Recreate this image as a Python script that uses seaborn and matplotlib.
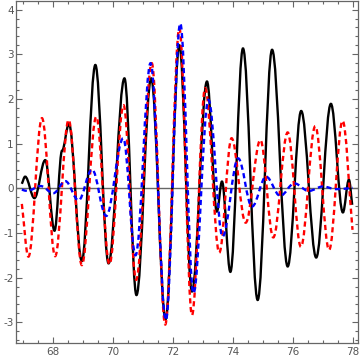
import matplotlib
matplotlib.use("Agg")
import matplotlib.pyplot as plt
import seaborn as sns
from matplotlib.path import Path
from matplotlib.patches import PathPatch
from matplotlib.ticker import MultipleLocator

# turning points (x, y)
black_x = [66.97, 67.08, 67.39, 67.75, 68.06, 68.31, 68.54, 68.97, 69.42, 69.86,
           70.39, 70.79, 71.28, 71.76, 72.22, 72.64, 73.14, 73.47, 73.64, 73.92,
           74.34, 74.83, 75.31, 75.83, 76.28, 76.78, 77.27, 77.67, 77.87, 77.98]
black_y = [0.10, 0.26, -0.22, 0.63, -0.95, 0.84, 1.44, -1.63, 2.76, -1.68,
           2.46, -2.39, 2.46, -2.93, 3.20, -2.31, 2.39, -0.52, 0.15, -1.87,
           3.13, -2.50, 3.10, -1.75, 1.73, -1.55, 1.89, -0.54, 0.19, -0.37]

red_x = [66.97, 67.19, 67.64, 68.08, 68.53, 68.97, 69.45, 69.89, 70.36, 70.78,
         71.30, 71.75, 72.22, 72.64, 73.08, 73.55, 73.96, 74.43, 74.92, 75.35,
         75.83, 76.27, 76.75, 77.21, 77.66, 77.99]
red_y = [-0.35, -1.53, 1.57, -1.52, 1.53, -1.72, 1.60, -1.70, 1.86, -2.05,
         2.80, -3.05, 3.58, -2.84, 2.24, -1.44, 1.12, -0.77, 1.08, -1.10,
         1.25, -1.31, 1.39, -1.38, 1.51, -0.93]

blue_x = [66.97, 67.15, 67.60, 68.02, 68.42, 68.86, 69.31, 69.78, 70.35, 70.76,
          71.26, 71.77, 72.25, 72.69, 73.19, 73.66, 74.18, 74.64, 75.11, 75.58,
          76.05, 76.53, 77.00, 77.45, 78.00]
blue_y = [-0.03, -0.06, 0.05, -0.11, 0.16, -0.27, 0.42, -0.62, 1.12, -1.50,
          2.80, -2.95, 3.69, -2.35, 1.98, -1.08, 0.67, -0.41, 0.26, -0.17,
          0.11, -0.06, 0.04, -0.02, 0.01]


def smooth_path(xs, ys, k=0.363):
    # cubic segments with flat handles at the turning points
    verts = [(xs[0], ys[0])]
    codes = [Path.MOVETO]
    n = len(xs)
    for i in range(n - 1):
        x0, y0, x1, y1 = xs[i], ys[i], xs[i + 1], ys[i + 1]
        dx = x1 - x0
        c1 = (x0 + k * dx, y0 if i > 0 else y0 + k * (y1 - y0))
        c2 = (x1 - k * dx, y1 if i < n - 2 else y1 - k * (y1 - y0))
        verts += [c1, c2, (x1, y1)]
        codes += [Path.CURVE4] * 3
    return Path(verts, codes)


sns.set_style("ticks")
plt.rcParams['font.family'] = ['DejaVu Sans']
plt.rcParams['axes.unicode_minus'] = False

fig = plt.figure(figsize=(3.6, 3.61), dpi=100)
ax = fig.add_axes([0.044, 0.049, 0.951, 0.948])

ax.axhline(0, color='#666666', lw=1.0, zorder=1)

ax.add_patch(PathPatch(smooth_path(black_x, black_y), fill=False,
                       edgecolor='black', lw=1.7, zorder=2))
ax.add_patch(PathPatch(smooth_path(red_x, red_y), fill=False,
                       edgecolor='#ff0000', lw=1.7, linestyle=(0, (2.2, 1.5)), zorder=3))
ax.add_patch(PathPatch(smooth_path(blue_x, blue_y), fill=False,
                       edgecolor='#0000ff', lw=1.7, linestyle=(0, (2.2, 1.5)), zorder=4))

ax.set_xlim(66.77, 78.18)
ax.set_ylim(-3.47, 4.19)

ax.xaxis.set_major_locator(MultipleLocator(2))
ax.xaxis.set_minor_locator(MultipleLocator(0.5))
ax.yaxis.set_major_locator(MultipleLocator(1))
ax.yaxis.set_minor_locator(MultipleLocator(0.2))

ax.tick_params(which='both', direction='in', top=True, right=True,
               color='#666666', labelcolor='#555555', labelsize=7.5, width=0.8)
ax.tick_params(axis='y', pad=1.5)
ax.tick_params(axis='x', pad=3)
ax.tick_params(which='major', length=4)
ax.tick_params(which='minor', length=2.2)
for s in ax.spines.values():
    s.set_color('#666666')
    s.set_linewidth(0.9)

fig.savefig('out.png', dpi=100)
